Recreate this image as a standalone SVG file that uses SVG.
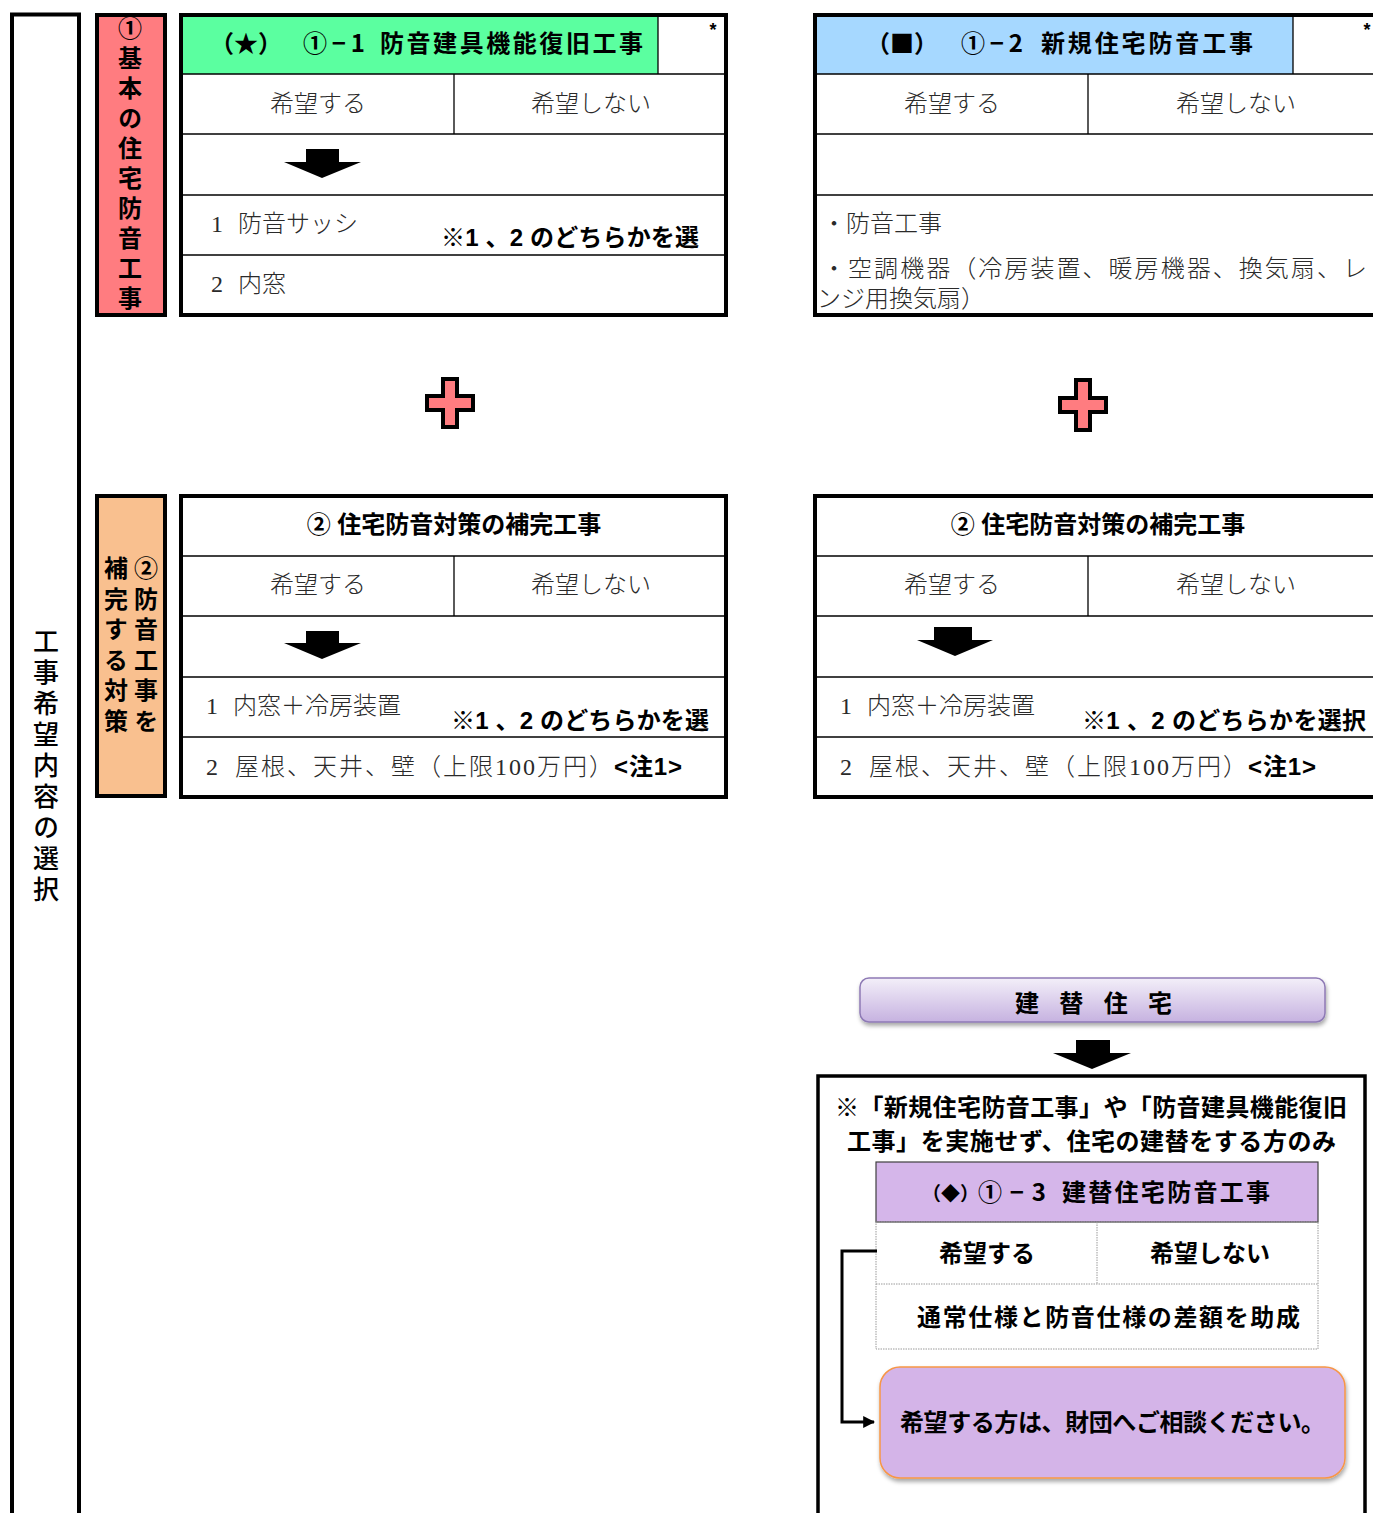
<svg xmlns="http://www.w3.org/2000/svg" width="1373" height="1513" viewBox="0 0 1373 1513">
<style>
.m{font-family:"Liberation Serif","Noto Sans CJK JP",serif;font-size:24px;fill:#2a2a2a;font-weight:300}
.g{font-family:"Liberation Sans","Noto Sans CJK JP",sans-serif;font-size:24px;font-weight:700;fill:#000}
.j{font-family:"Noto Sans CJK JP",sans-serif}
.vt{font-family:"Noto Sans CJK JP",sans-serif;font-size:24px;font-weight:700;fill:#000;writing-mode:vertical-rl;text-orientation:upright}
.c{text-anchor:middle}
.thick{fill:none;stroke:#000;stroke-width:4}
.thin{stroke:#000;stroke-width:1.3;fill:none}
.dot{stroke:#9a9a9a;stroke-width:1;fill:none;stroke-dasharray:1.5 1}
.arrow{fill:#000}
.plus{fill:#FF7C80;stroke:#000;stroke-width:4;stroke-linejoin:miter}
</style>
<defs>
<linearGradient id="lav" x1="0" y1="0" x2="0" y2="1">
<stop offset="0" stop-color="#F3EFF9"/>
<stop offset="1" stop-color="#C6B2E0"/>
</linearGradient>
<filter id="sh" x="-5%" y="-20%" width="110%" height="150%">
<feDropShadow dx="1" dy="3" stdDeviation="2" flood-color="#000" flood-opacity="0.35"/>
</filter>
<marker id="ah" viewBox="0 0 10 10" refX="9" refY="5" markerWidth="4" markerHeight="4" orient="auto" markerUnits="strokeWidth">
<path d="M0,0 L10,5 L0,10 z" fill="#000"/>
</marker>
</defs>
<rect width="1373" height="1513" fill="#fff"/>

<g id="outer-label">
<path d="M12,1513 V14.5 H79 V1513" class="thick"/>
<text class="vt" x="46" y="628" style="font-size:26px;font-weight:500;letter-spacing:5px">工事希望内容の選択</text>
</g>

<g id="label-basic">
<rect x="97" y="15" width="68" height="300" style="fill:#FF7C80;stroke:#000;stroke-width:4"/>
<text class="vt" x="130" y="16" style="letter-spacing:6px">①基本の住宅防音工事</text>
</g>

<g id="table-1-1">
<rect x="183" y="17" width="475" height="57" fill="#5BFFA0"/>
<line x1="658" y1="17" x2="658" y2="74" class="thin"/>
<line x1="183" y1="74" x2="726" y2="74" class="thin"/>
<line x1="183" y1="134" x2="726" y2="134" class="thin"/>
<line x1="183" y1="195" x2="726" y2="195" class="thin"/>
<line x1="183" y1="255" x2="726" y2="255" class="thin"/>
<line x1="454" y1="74" x2="454" y2="134" class="thin"/>
<rect x="181" y="15" width="545" height="300" class="thick"/>
<text class="g" y="52"><tspan x="210" class="j">（★）</tspan><tspan x="303" class="j" textLength="62">①−1</tspan><tspan x="380" textLength="263">防音建具機能復旧工事</tspan></text>
<text class="g" x="713" y="36" style="font-size:18px" text-anchor="middle">*</text>
<text class="m c" x="318" y="112">希望する</text>
<text class="m c" x="591" y="112">希望しない</text>
<polygon class="arrow" points="306,149 339,149 339,162 361,162 322,178 284,162 306,162"/>
<text class="m" y="232"><tspan x="211">1</tspan><tspan x="238">防音サッシ</tspan></text>
<text class="g" x="441" y="246" textLength="258">※1 、2 のどちらかを選</text>
<text class="m" y="292"><tspan x="211">2</tspan><tspan x="238">内窓</tspan></text>
</g>

<g id="table-1-2">
<rect x="817" y="17" width="476" height="57" fill="#A6D8FF"/>
<line x1="1293" y1="17" x2="1293" y2="74" class="thin"/>
<line x1="817" y1="74" x2="1373" y2="74" class="thin"/>
<line x1="817" y1="134" x2="1373" y2="134" class="thin"/>
<line x1="817" y1="195" x2="1373" y2="195" class="thin"/>
<line x1="1088" y1="74" x2="1088" y2="134" class="thin"/>
<path d="M1375,15 H815 V315 H1375" class="thick"/>
<text class="g" y="52"><tspan x="866" class="j">（■）</tspan><tspan x="961" class="j" textLength="62">①−2</tspan><tspan x="1041" textLength="212">新規住宅防音工事</tspan></text>
<text class="g" x="1367" y="36" style="font-size:18px" text-anchor="middle">*</text>
<text class="m c" x="952" y="112">希望する</text>
<text class="m c" x="1236" y="112">希望しない</text>
<text class="m" x="822" y="232">・防音工事</text>
<text class="m" x="822" y="277" textLength="545">・空調機器（冷房装置、暖房機器、換気扇、レ</text>
<text class="m" x="817" y="307">ンジ用換気扇）</text>
</g>

<g id="plus-left">
<polygon class="plus" points="443,379 457,379 457,396 473,396 473,410 457,410 457,427 443,427 443,410 427,410 427,396 443,396"/>
</g>
<g id="plus-right">
<polygon class="plus" points="1076,380 1090,380 1090,398 1106,398 1106,412 1090,412 1090,430 1076,430 1076,412 1060,412 1060,398 1076,398"/>
</g>

<g id="label-supplement">
<rect x="97" y="496" width="68" height="300" style="fill:#F9C08F;stroke:#000;stroke-width:4"/>
<text class="vt" x="146" y="556" style="letter-spacing:6.5px">②防音工事を</text>
<text class="vt" x="116" y="556" style="letter-spacing:6.5px">補完する対策</text>
</g>

<g id="table-2-left">
<line x1="183" y1="556" x2="726" y2="556" class="thin"/>
<line x1="183" y1="616" x2="726" y2="616" class="thin"/>
<line x1="183" y1="677" x2="726" y2="677" class="thin"/>
<line x1="183" y1="737" x2="726" y2="737" class="thin"/>
<line x1="454" y1="556" x2="454" y2="616" class="thin"/>
<rect x="181" y="496" width="545" height="301" class="thick"/>
<text class="g c" x="454" y="533">② 住宅防音対策の補完工事</text>
<text class="m c" x="318" y="593">希望する</text>
<text class="m c" x="591" y="593">希望しない</text>
<polygon class="arrow" points="306,631 339,631 339,643 361,643 322,659 284,643 306,643"/>
<text class="m" y="714"><tspan x="206">1</tspan><tspan x="233">内窓＋冷房装置</tspan></text>
<text class="g" x="451" y="729" textLength="258">※1 、2 のどちらかを選</text>
<text class="m" y="775"><tspan x="206">2</tspan><tspan x="235" textLength="378">屋根、天井、壁（上限100万円）</tspan></text>
<text class="g" x="614" y="775" textLength="68">&lt;注1&gt;</text>
</g>

<g id="table-2-right">
<line x1="817" y1="556" x2="1373" y2="556" class="thin"/>
<line x1="817" y1="616" x2="1373" y2="616" class="thin"/>
<line x1="817" y1="677" x2="1373" y2="677" class="thin"/>
<line x1="817" y1="737" x2="1373" y2="737" class="thin"/>
<line x1="1088" y1="556" x2="1088" y2="616" class="thin"/>
<path d="M1375,496 H815 V797 H1375" class="thick"/>
<text class="g c" x="1098" y="533">② 住宅防音対策の補完工事</text>
<text class="m c" x="952" y="593">希望する</text>
<text class="m c" x="1236" y="593">希望しない</text>
<polygon class="arrow" points="934,627 972,627 972,640 993,640 955,656 917,640 934,640"/>
<text class="m" y="714"><tspan x="840">1</tspan><tspan x="867">内窓＋冷房装置</tspan></text>
<text class="g" x="1082" y="729" textLength="284">※1 、2 のどちらかを選択</text>
<text class="m" y="775"><tspan x="840">2</tspan><tspan x="869" textLength="378">屋根、天井、壁（上限100万円）</tspan></text>
<text class="g" x="1248" y="775" textLength="68">&lt;注1&gt;</text>
</g>

<g id="rebuild-title">
<rect x="860" y="978" width="465" height="44" rx="9" fill="url(#lav)" stroke="#8E7AB5" stroke-width="1.5" filter="url(#sh)"/>
<text class="g j" x="1015" y="1012" textLength="157">建 替 住 宅</text>
</g>

<g id="rebuild-box">
<path d="M818,1513 V1076 H1365 V1513" fill="none" stroke="#000" stroke-width="3.5"/>
<text class="g j" x="835" y="1116" textLength="512">※「新規住宅防音工事」や「防音建具機能復旧</text>
<text class="g j" x="847" y="1150" textLength="489">工事」を実施せず、住宅の建替をする方のみ</text>
</g>

<g id="table-1-3">
<rect x="876" y="1162" width="442" height="60" fill="#D5B6EA" stroke="#404040" stroke-width="1.2"/>
<rect x="876" y="1222" width="442" height="127" class="dot"/>
<line x1="876" y1="1284" x2="1318" y2="1284" class="dot"/>
<line x1="1097" y1="1222" x2="1097" y2="1284" class="dot"/>
<text class="g" y="1201"><tspan x="922" class="j" style="font-size:19px">（◆）</tspan><tspan x="978" class="j" textLength="68">①−3</tspan><tspan x="1062" textLength="208">建替住宅防音工事</tspan></text>
<text class="g c" x="987" y="1262">希望する</text>
<text class="g c" x="1210" y="1262">希望しない</text>
<text class="g j" x="917" y="1326" textLength="383">通常仕様と防音仕様の差額を助成</text>
</g>

<g id="consult">
<rect x="880" y="1367" width="465" height="111" rx="20" fill="#D4B4E8" stroke="#F79646" stroke-width="1.5" filter="url(#sh)"/>
<text class="g j" x="900" y="1431" textLength="425">希望する方は、財団へご相談ください。</text>
</g>

<g id="arrow-rebuild">
<polygon class="arrow" points="1076,1040 1110,1040 1110,1053 1131,1053 1092,1069 1053,1053 1076,1053"/>
</g>

<g id="connectors">
<polyline points="877,1251 842,1251 842,1422 874,1422" fill="none" stroke="#000" stroke-width="3" marker-end="url(#ah)"/>
</g>
</svg>
